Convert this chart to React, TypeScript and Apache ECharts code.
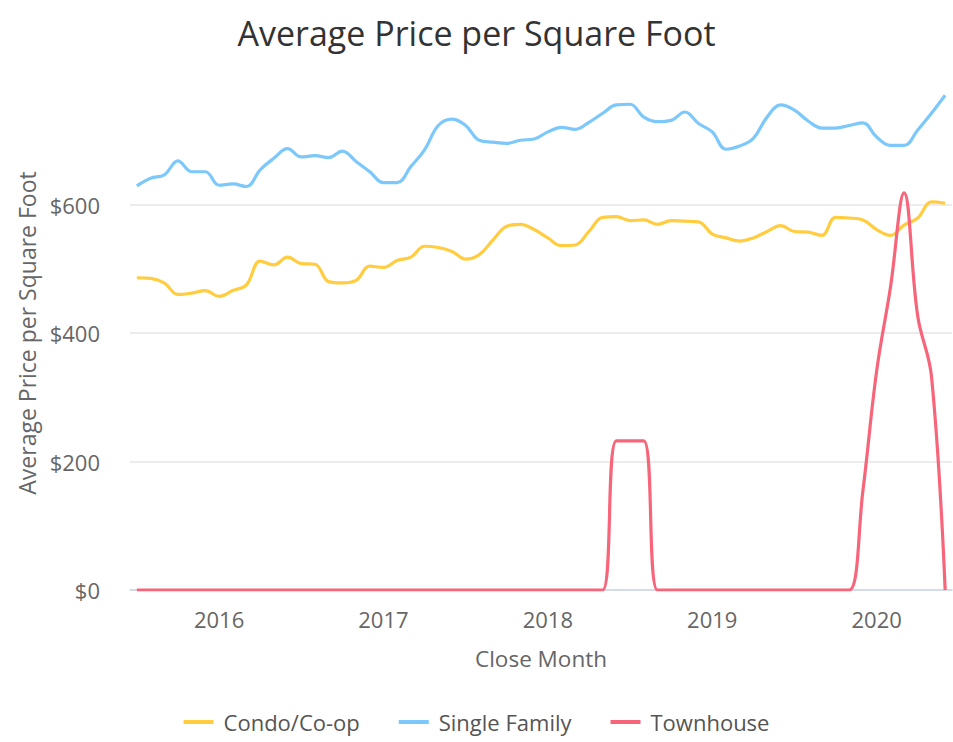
import React, { useEffect, useRef } from "react";
import * as echarts from "echarts";

// Monthly categories, Jul 2015 – Jun 2020
const months: string[] = [];
for (let y = 2015; y <= 2020; y++) {
  for (let m = 1; m <= 12; m++) {
    if ((y === 2015 && m < 7) || (y === 2020 && m > 6)) continue;
    months.push(`${y}-${String(m).padStart(2, "0")}`);
  }
}

const condo = [
  486, 485, 478, 460, 462, 466, 457, 466, 475, 512,
  506, 518, 508, 507, 480, 478, 482, 504, 502, 513,
  518, 535, 533, 527, 515, 522, 545, 566, 569, 561,
  548, 536, 537, 558, 580, 581, 575, 576, 569, 575,
  574, 573, 554, 548, 543, 548, 558, 567, 558, 557,
  552, 580, 579, 576, 561, 552, 568, 579, 604, 602,
];

const singleFamily = [
  629, 641, 646, 668, 651, 651, 630, 632, 628, 654,
  672, 687, 674, 676, 673, 683, 667, 651, 634, 634,
  659, 685, 723, 733, 723, 700, 697, 695, 700, 702,
  713, 720, 717, 728, 742, 755, 756, 736, 729, 731,
  744, 726, 713, 686, 691, 703, 736, 755, 747, 730,
  719, 719, 723, 727, 705, 692, 692, 716, 742, 770,
];

const townhouse = [
  0, 0, 0, 0, 0, 0, 0, 0, 0, 0,
  0, 0, 0, 0, 0, 0, 0, 0, 0, 0,
  0, 0, 0, 0, 0, 0, 0, 0, 0, 0,
  0, 0, 0, 0, 0, 232, 232, 232, 0, 0,
  0, 0, 0, 0, 0, 0, 0, 0, 0, 0,
  0, 0, 0, 155, 341, 470, 618, 426, 333, 0,
];

const yTicks = [0, 200, 400, 600];

const FONT = "'Open Sans', 'Noto Sans', sans-serif";

export default function App() {
  const ref = useRef<HTMLDivElement>(null);

  useEffect(() => {
    if (!ref.current) return;
    const chart = echarts.init(ref.current, undefined, { renderer: "svg" });
    const lineSeries = (name: string, data: number[], color: string) => ({
      name,
      type: "line",
      data,
      smooth: 0.4,
      showSymbol: false,
      symbol: "none",
      lineStyle: { color, width: 3.2 },
      itemStyle: { color },
    });
    chart.setOption({
      animation: false,
      backgroundColor: "#ffffff",
      textStyle: { fontFamily: FONT },
      title: {
        text: "Average Price per Square Foot",
        left: "center",
        top: 11,
        textStyle: { fontFamily: FONT, fontSize: 34, fontWeight: "normal", color: "#333333" },
      },
      legend: {
        bottom: 4,
        left: "center",
        icon: "rect",
        itemWidth: 30,
        itemHeight: 4,
        itemGap: 39,
        textStyle: { fontFamily: FONT, fontSize: 22, color: "#555555", padding: [0, 0, 0, 5] },
        data: ["Condo/Co-op", "Single Family", "Townhouse"],
      },
      grid: { left: 130, right: 1, top: 76, bottom: 152, outerBoundsMode: "none" },
      xAxis: {
        type: "category",
        data: months,
        boundaryGap: true,
        name: "Close Month",
        nameLocation: "middle",
        nameGap: 57,
        nameTextStyle: { fontFamily: FONT, fontSize: 22.5, color: "#666666" },
        axisLine: { show: true, lineStyle: { color: "#ccd6eb", width: 1.5 } },
        axisTick: { show: false },
        splitLine: { show: false },
        axisLabel: {
          interval: (_i: number, v: string) => v.endsWith("-01"),
          formatter: (v: string) => v.slice(0, 4),
          margin: 18,
          fontFamily: FONT,
          fontSize: 22,
          color: "#666666",
        },
      },
      yAxis: {
        type: "value",
        min: 0,
        max: 800,
        interval: 200,
        name: "Average Price per Square Foot",
        nameLocation: "middle",
        nameGap: 91,
        nameTextStyle: { fontFamily: FONT, fontSize: 23, color: "#666666" },
        axisLine: { show: false },
        axisTick: { show: false },
        splitLine: { show: true, showMaxLine: false, lineStyle: { color: "#e6e6e6", width: 1.5 } },
        axisLabel: {
          margin: 30,
          showMaxLabel: false,
          fontFamily: FONT,
          fontSize: 22,
          color: "#666666",
          formatter: (v: number) => (yTicks.includes(v) ? `$${v}` : ""),
        },
      },
      series: [
        lineSeries("Condo/Co-op", condo, "#FFCD3F"),
        lineSeries("Single Family", singleFamily, "#7CC8FB"),
        lineSeries("Townhouse", townhouse, "#F7657A"),
      ],
    });
    return () => chart.dispose();
  }, []);

  return (
    <div
      ref={ref}
      style={{ position: "fixed", left: 0, top: 0, width: 953, height: 742 }}
    />
  );
}
